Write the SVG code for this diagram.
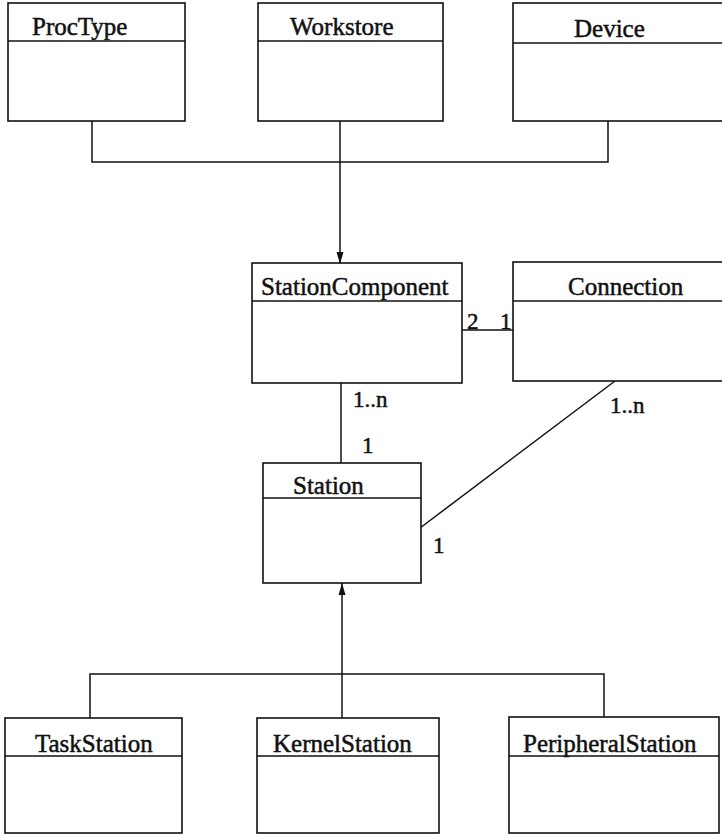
<svg xmlns="http://www.w3.org/2000/svg" width="722" height="836" viewBox="0 0 722 836">
<style>
.box{fill:#fff;stroke:#111;stroke-width:1.6}
.div{stroke:#111;stroke-width:1.4}
.ln{fill:none;stroke:#111;stroke-width:1.5}
text{font-family:"Liberation Serif","Times New Roman",serif;font-size:25px;fill:#111;stroke:#111;stroke-width:0.5}
.lbl{font-size:23px}
</style>
<defs>
<marker id="arr" viewBox="0 0 12 10" refX="12" refY="5" markerWidth="12" markerHeight="10" markerUnits="userSpaceOnUse" orient="auto">
<path d="M0,1.5 L12,5 L0,8.5 Z" fill="#111"/>
</marker>
</defs>
<rect width="722" height="836" fill="#fff"/>
<g id="connectors">
<path class="ln" d="M92,121 V162 H608 V121"/>
<path class="ln" d="M340,121 V264" marker-end="url(#arr)"/>
<path class="ln" d="M458,330 H513"/>
<path class="ln" d="M341,383 V463"/>
<path class="ln" d="M615,381 L420,528"/>
<path class="ln" d="M90,718 V674 H604 V718"/>
<path class="ln" d="M342,718 V583" marker-end="url(#arr)"/>
<text class="lbl" x="467" y="329">2</text>
<text class="lbl" x="500" y="329">1</text>
<text class="lbl" x="353" y="407">1..n</text>
<text class="lbl" x="610" y="413">1..n</text>
<text class="lbl" x="362" y="453">1</text>
<text class="lbl" x="433" y="553">1</text>
</g>
<g id="ProcType">
<rect class="box" x="8" y="3" width="177" height="118"/>
<line class="div" x1="8" y1="41" x2="185" y2="41"/>
<text x="32" y="35">ProcType</text>
</g>
<g id="Workstore">
<rect class="box" x="258" y="3" width="185" height="118"/>
<line class="div" x1="258" y1="41" x2="443" y2="41"/>
<text x="290" y="35">Workstore</text>
</g>
<g id="Device">
<rect class="box" x="513" y="3" width="220" height="118"/>
<line class="div" x1="513" y1="43" x2="733" y2="43"/>
<text x="574" y="37">Device</text>
</g>
<g id="StationComponent">
<rect class="box" x="252" y="263" width="210" height="120"/>
<line class="div" x1="252" y1="301" x2="462" y2="301"/>
<text x="261" y="295">StationComponent</text>
</g>
<g id="Connection">
<rect class="box" x="513" y="262" width="220" height="119"/>
<line class="div" x1="513" y1="301" x2="733" y2="301"/>
<text x="568" y="295">Connection</text>
</g>
<g id="Station">
<rect class="box" x="263" y="463" width="158" height="120"/>
<line class="div" x1="263" y1="498" x2="421" y2="498"/>
<text x="293" y="494">Station</text>
</g>
<g id="TaskStation">
<rect class="box" x="5" y="718" width="177" height="115"/>
<line class="div" x1="5" y1="756" x2="182" y2="756"/>
<text x="35" y="752">TaskStation</text>
</g>
<g id="KernelStation">
<rect class="box" x="257" y="718" width="182" height="115"/>
<line class="div" x1="257" y1="756" x2="439" y2="756"/>
<text x="273" y="752">KernelStation</text>
</g>
<g id="PeripheralStation">
<rect class="box" x="509" y="717" width="210" height="116"/>
<line class="div" x1="509" y1="756" x2="719" y2="756"/>
<text x="523" y="752">PeripheralStation</text>
</g>
</svg>
